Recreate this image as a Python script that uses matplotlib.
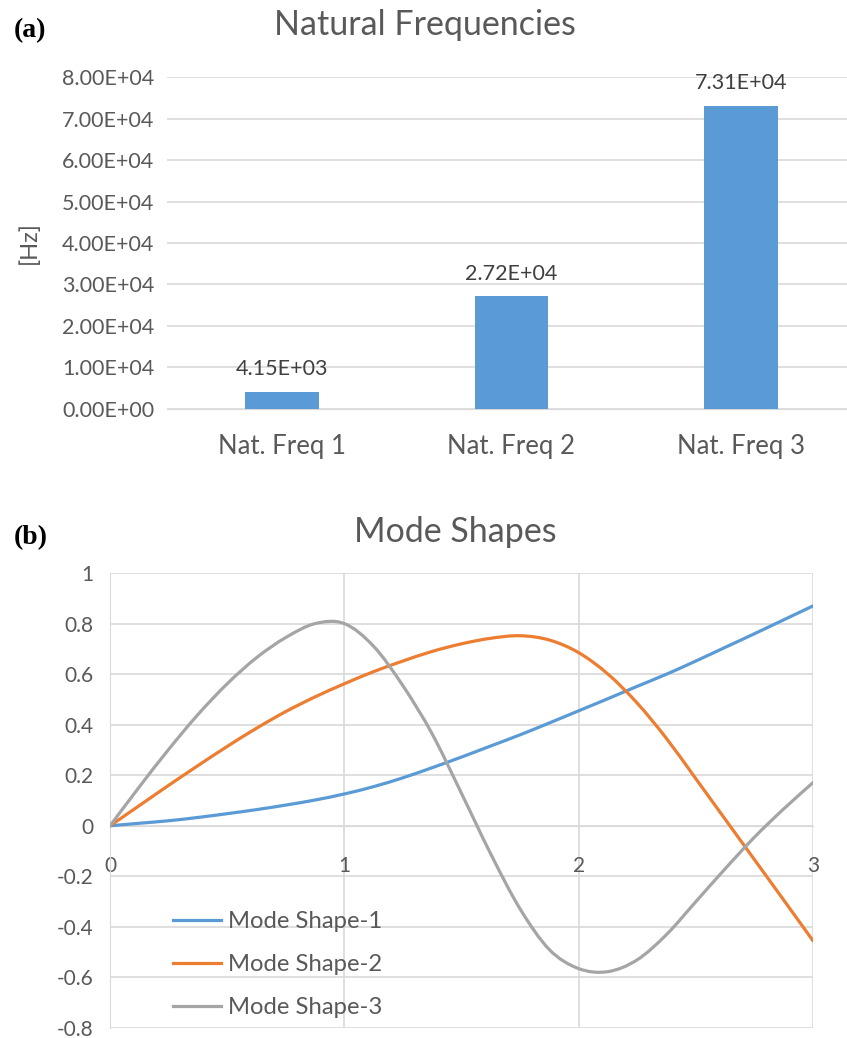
import matplotlib
matplotlib.use('Agg')
import matplotlib.pyplot as plt
from matplotlib.path import Path
from matplotlib.patches import PathPatch
import numpy as np

plt.rcParams['font.family'] = ['Lato', 'DejaVu Sans']

# natural frequencies [Hz]
freq_labels = ['Nat. Freq 1', 'Nat. Freq 2', 'Nat. Freq 3']
freq_values = [4150, 27200, 73100]
freq_text = ['4.15E+03', '2.72E+04', '7.31E+04']
freq_ticks = [0, 10000, 20000, 30000, 40000, 50000, 60000, 70000, 80000]
freq_tick_text = ['0.00E+00', '1.00E+04', '2.00E+04', '3.00E+04', '4.00E+04',
                  '5.00E+04', '6.00E+04', '7.00E+04', '8.00E+04']

# mode shapes along the beam
pos = [0, 0.125, 0.25, 0.375, 0.5, 0.625, 0.75, 0.875, 1.0, 1.125, 1.25, 1.375, 1.5,
       1.625, 1.75, 1.875, 2.0, 2.125, 2.25, 2.375, 2.5, 2.625, 2.75, 2.875, 3.0]
mode1 = [0, 0.01, 0.02, 0.033, 0.048, 0.064, 0.082, 0.102, 0.126, 0.155, 0.19, 0.23, 0.272,
         0.316, 0.36, 0.407, 0.455, 0.503, 0.552, 0.60, 0.652, 0.706, 0.76, 0.815, 0.87]
mode2 = [0, 0.08, 0.16, 0.238, 0.314, 0.386, 0.452, 0.51, 0.562, 0.61, 0.652, 0.69, 0.72,
         0.742, 0.752, 0.735, 0.685, 0.60, 0.485, 0.345, 0.186, 0.026, -0.134, -0.294, -0.455]
mode3 = [0, 0.154, 0.302, 0.44, 0.562, 0.665, 0.745, 0.80, 0.80, 0.71, 0.554, 0.363, 0.128,
         -0.112, -0.329, -0.49, -0.565, -0.577, -0.53, -0.43, -0.30, -0.17, -0.045, 0.067, 0.171]
mode_names = ['Mode Shape-1', 'Mode Shape-2', 'Mode Shape-3']
mode_ticks_y = [-0.8, -0.6, -0.4, -0.2, 0, 0.2, 0.4, 0.6, 0.8, 1]
mode_ticks_x = [0, 1, 2, 3]

grid_c = '#d9d9d9'
text_c = '#595959'
colors = ['#5b9bd5', '#ed7d31', '#a5a5a5']


def smooth_path(xs, ys):
    # catmull-rom through the points, written as cubic bezier segments
    p = np.column_stack([xs, ys]).astype(float)
    p = np.vstack([p[0], p, p[-1]])
    verts = [p[1]]
    codes = [Path.MOVETO]
    for i in range(1, len(p) - 2):
        c1 = p[i] + (p[i + 1] - p[i - 1]) / 6.0
        c2 = p[i + 1] - (p[i + 2] - p[i]) / 6.0
        verts += [c1, c2, p[i + 1]]
        codes += [Path.CURVE4] * 3
    return Path(verts, codes)


fig = plt.figure(figsize=(8.47, 10.38), dpi=100)

# ---- (a) bar chart
ax1 = fig.add_axes([0.1972, 0.606, 0.8129, 0.3198])
x = np.arange(len(freq_values))
ax1.bar(x, freq_values, width=0.32, color=colors[0], zorder=3)
for xi, v, t in zip(x, freq_values, freq_text):
    ax1.annotate(t, (xi, v), xytext=(0, 9), textcoords='offset points',
                 ha='center', va='bottom', fontsize=15.5, color='#404040')
ax1.set_xlim(-0.5, 2.5)
ax1.set_ylim(0, 80000)
ax1.set_yticks(freq_ticks)
ax1.set_yticklabels(freq_tick_text)
ax1.set_xticks(x)
ax1.set_xticklabels(freq_labels)
ax1.grid(axis='y', color=grid_c, lw=1.2, zorder=0)
for s in ['top', 'right', 'left']:
    ax1.spines[s].set_visible(False)
ax1.spines['bottom'].set_color(grid_c)
ax1.tick_params(axis='both', length=0, labelsize=15.5, labelcolor=text_c)
ax1.tick_params(axis='y', pad=9)
ax1.tick_params(axis='x', pad=18, labelsize=18.5)
ax1.set_ylabel('[Hz]', fontsize=17, color=text_c)
ax1.yaxis.set_label_coords(-0.185, 0.5)

fig.text(425 / 847, 1 - 25 / 1038, 'Natural Frequencies', ha='center', va='center',
         fontsize=24.5, color=text_c)
fig.text(14 / 847, 1 - 31 / 1038, '(a)', ha='left', va='center', fontsize=20,
         fontweight='bold', family='Liberation Serif')

# ---- (b) mode shapes
ax2 = fig.add_axes([0.1299, 0.00963, 0.830, 0.4383])
handles = []
for ys, c, n in zip([mode1, mode2, mode3], colors, mode_names):
    ax2.add_patch(PathPatch(smooth_path(pos, ys), fill=False, edgecolor=c, lw=2.3,
                            zorder=3, capstyle='round'))
    h, = ax2.plot([], [], color=c, lw=2.3, label=n)
    handles.append(h)
ax2.set_xlim(0, 3)
ax2.set_ylim(-0.8, 1)
ax2.set_yticks(mode_ticks_y)
ax2.set_yticklabels(['%g' % t for t in mode_ticks_y])
ax2.set_xticks(mode_ticks_x)
ax2.grid(True, color=grid_c, lw=1.2, zorder=0)
for s in ['top', 'right']:
    ax2.spines[s].set_visible(False)
ax2.spines['left'].set_color(grid_c)
ax2.spines['bottom'].set_color(grid_c)
ax2.spines['bottom'].set_position(('data', 0))
ax2.tick_params(axis='both', length=0, labelsize=15, labelcolor=text_c)
ax2.tick_params(axis='y', pad=12)
ax2.tick_params(axis='x', pad=22)
ax2.legend(handles=handles, loc='lower left', bbox_to_anchor=(0.076, 0.0), borderaxespad=0,
           frameon=False, fontsize=17.2, handlelength=2.0, handletextpad=0.3,
           labelspacing=0.93, labelcolor=text_c)

fig.text(455 / 847, 1 - 532 / 1038, 'Mode Shapes', ha='center', va='center',
         fontsize=24.5, color=text_c)
fig.text(14 / 847, 1 - 538 / 1038, '(b)', ha='left', va='center', fontsize=20,
         fontweight='bold', family='Liberation Serif')

fig.savefig('out.png', dpi=100, facecolor='white')
